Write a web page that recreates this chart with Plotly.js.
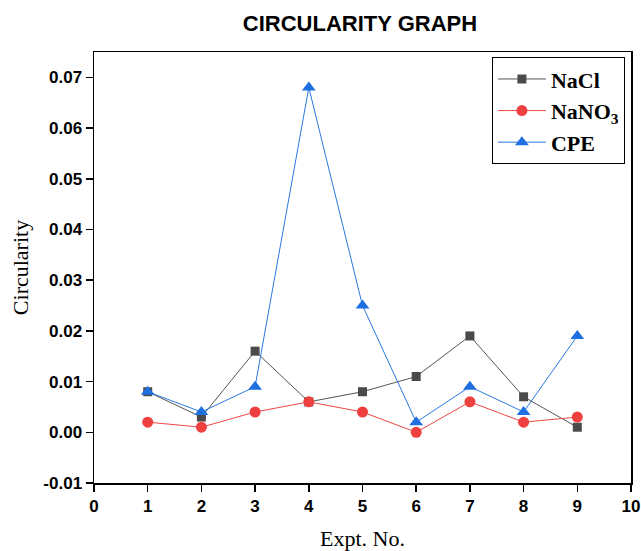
<!DOCTYPE html>
<html><head><meta charset="utf-8">
<script src="https://cdn.plot.ly/plotly-3.0.1.min.js"></script>
<style>html,body{margin:0;padding:0;background:#fff;}#chart{width:641px;height:551px;}</style>
</head><body><div id="chart"></div>
<script>
const expt = [1, 2, 3, 4, 5, 6, 7, 8, 9];
const nacl = [0.008, 0.003, 0.016, 0.006, 0.008, 0.011, 0.019, 0.007, 0.001];
const nano3 = [0.002, 0.001, 0.004, 0.006, 0.004, 0.000, 0.006, 0.002, 0.003];
const cpe = [0.008, 0.004, 0.009, 0.068, 0.025, 0.002, 0.009, 0.004, 0.019];
const xTicks = [0,1,2,3,4,5,6,7,8,9,10];
const yTicks = [-0.01,0,0.01,0.02,0.03,0.04,0.05,0.06,0.07];
const yTickText = ['-0.01','0.00','0.01','0.02','0.03','0.04','0.05','0.06','0.07'];

const traces = [
  {x: expt, y: nacl, name: 'NaCl', mode: 'lines+markers', type: 'scatter',
   line: {color: '#555555', width: 1}, marker: {symbol: 'square', size: 9, color: '#4a4a4a'}},
  {x: expt, y: nano3, name: 'NaNO<sub>3</sub>', mode: 'lines+markers', type: 'scatter',
   line: {color: '#f04545', width: 1}, marker: {symbol: 'circle', size: 11, color: '#ef4040'}},
  {x: expt, y: cpe, name: 'CPE', mode: 'lines+markers', type: 'scatter',
   line: {color: '#2a78e0', width: 1}, marker: {symbol: 'triangle-up', size: 12, color: '#1e6fe0'}}
];

const layout = {
  width: 641, height: 551,
  margin: {l: 94, r: 10, t: 52, b: 68},
  paper_bgcolor: '#fff', plot_bgcolor: '#fff',
  title: {text: '<b>CIRCULARITY GRAPH</b>', font: {family: 'Liberation Sans, Arial', size: 22, color: '#000'},
          x: 0.5616, xanchor: 'center', y: 0.957, yanchor: 'middle'},
  xaxis: {range: [0, 10], tickvals: xTicks, ticktext: xTicks.map(String), ticks: 'outside', ticklen: 7, tickwidth: 1.5,
          tickcolor: '#000', showline: true, linecolor: '#000', linewidth: 1.5, mirror: true, showgrid: false, zeroline: false,
          tickfont: {family: 'Liberation Sans, Arial', size: 17, color: '#000', weight: 'bold'},
          title: {text: 'Expt. No.', font: {family: 'Liberation Serif, Times New Roman', size: 22, color: '#000'}, standoff: 19}},
  yaxis: {range: [-0.01, 0.075], tickvals: yTicks, ticktext: yTickText, ticks: 'outside', ticklen: 7, tickwidth: 1.5,
          tickcolor: '#000', showline: true, linecolor: '#000', linewidth: 1.5, mirror: true, showgrid: false, zeroline: false,
          tickfont: {family: 'Liberation Sans, Arial', size: 17, color: '#000', weight: 'bold'},
          title: {text: 'Circularity', font: {family: 'Liberation Serif, Times New Roman', size: 22, color: '#000'}, standoff: 8}},
  legend: {x: 0.741, y: 0.988, xanchor: 'left', yanchor: 'top', bordercolor: '#000', borderwidth: 1, bgcolor: '#fff',
           font: {family: 'Liberation Serif, Times New Roman', size: 22, color: '#000', weight: 'bold'},
           itemwidth: 48, tracegroupgap: 0},
  showlegend: true
};
Plotly.newPlot('chart', traces, layout, {displayModeBar: false, staticPlot: true});
</script></body></html>
